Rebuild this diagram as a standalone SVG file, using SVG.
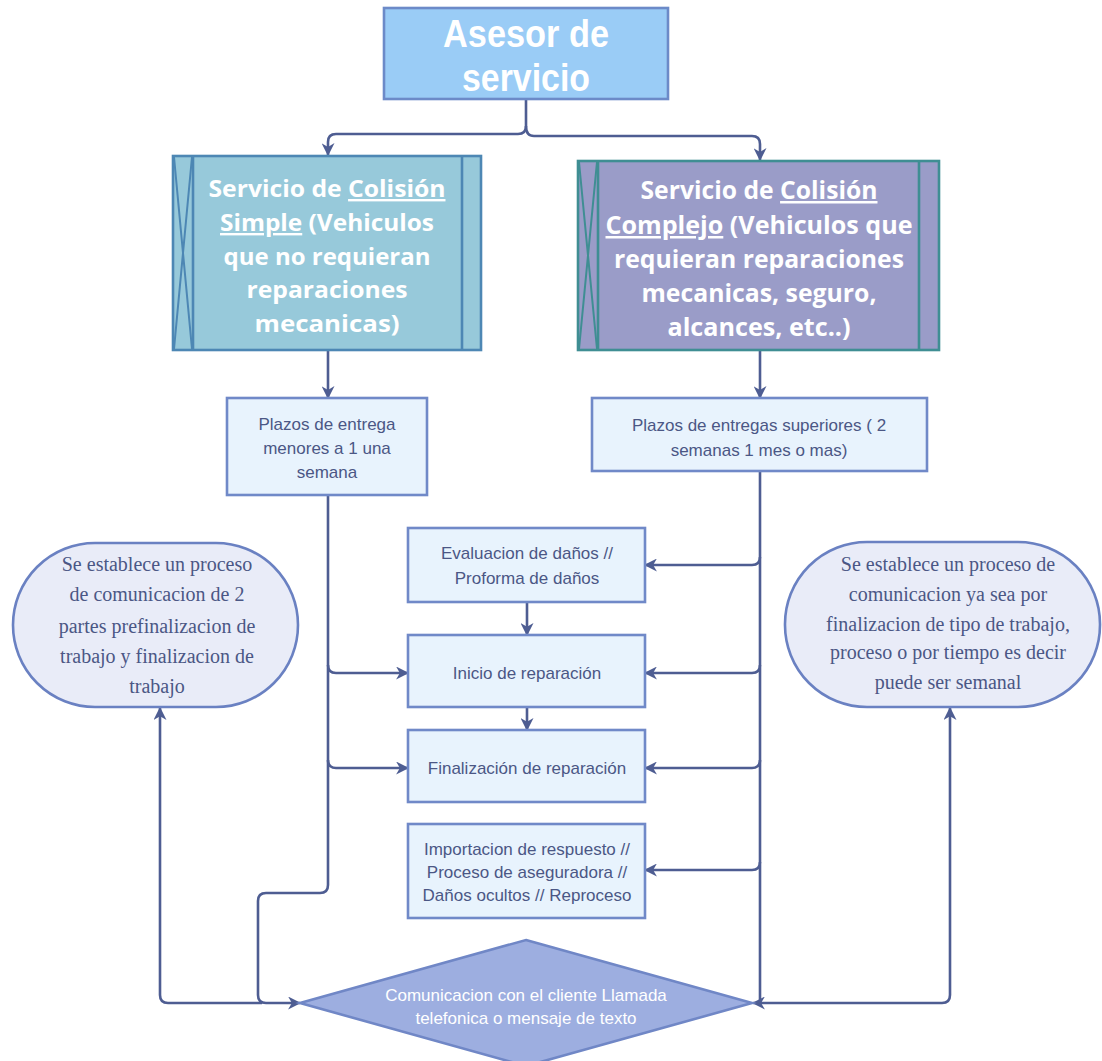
<svg xmlns="http://www.w3.org/2000/svg" width="1102" height="1061" viewBox="0 0 1102 1061">
  <defs>
    <marker id="arrow" viewBox="0 0 12 12" refX="11" refY="6" markerWidth="13" markerHeight="13" markerUnits="userSpaceOnUse" orient="auto">
      <path d="M0,0 L12,6 L0,12 L3.5,6 z" fill="#4E5D92"/>
    </marker>
    <style>
      .conn { fill: none; stroke: #4E5D92; stroke-width: 2.6; }
      .arr { marker-end: url(#arrow); }
      .box { fill: #E8F3FD; stroke: #7089C8; stroke-width: 2.6; }
      .boxtxt { font-family: "Liberation Sans", Arial, sans-serif; font-size: 17px; fill: #4B5785; text-anchor: middle; }
      .head { font-family: "Open Sans", "DejaVu Sans", sans-serif; font-weight: 700; fill: #FFFFFF; text-anchor: middle; }
      .title { font-family: "Liberation Sans", Arial, sans-serif; font-weight: 700; font-size: 38px; fill: #FFFFFF; text-anchor: middle; }
      .pill { fill: #E9ECF8; stroke: #6A81C2; stroke-width: 2.6; }
      .pilltxt { font-family: "Liberation Serif", "Times New Roman", serif; font-size: 20px; fill: #4B5785; text-anchor: middle; }
      .diatxt { font-family: "Liberation Sans", Arial, sans-serif; font-size: 17px; fill: #FFFFFF; text-anchor: middle; }
      .u { text-decoration: underline; }
    </style>
  </defs>

  <!-- connectors -->
  <g id="connectors">
    <path class="conn arr" d="M526,99 V126 Q526,134 518,134 H336 Q328,134 328,142 V155"/>
    <path class="conn arr" d="M526,126 Q526,136 534,136 H752 Q760,136 760,144 V160"/>
    <path class="conn arr" d="M328,350 V398"/>
    <path class="conn arr" d="M760,350 V398"/>
    <!-- left trunk -->
    <path class="conn arr" d="M328,495 V885 Q328,893 320,893 H266 Q258,893 258,901 V995 Q258,1003 266,1003 H300"/>
    <path class="conn arr" d="M328,665 Q328,673 336,673 H408"/>
    <path class="conn arr" d="M328,760 Q328,768 336,768 H408"/>
    <path class="conn arr" d="M262,1003 H168 Q160,1003 160,995 V708"/>
    <!-- right trunk -->
    <path class="conn arr" d="M760,471 V1003 H753"/>
    <path class="conn arr" d="M760,557 Q760,565 752,565 H645"/>
    <path class="conn arr" d="M760,665 Q760,673 752,673 H645"/>
    <path class="conn arr" d="M760,760 Q760,768 752,768 H645"/>
    <path class="conn arr" d="M760,862 Q760,870 752,870 H645"/>
    <path class="conn arr" d="M760,1003 H942 Q950,1003 950,995 V708"/>
    <!-- centre chain -->
    <path class="conn arr" d="M527,602 V635"/>
    <path class="conn arr" d="M527,707 V730"/>
  </g>

  <!-- Asesor de servicio -->
  <g id="asesor">
    <rect x="384" y="8" width="284" height="91" fill="#9ACCF6" stroke="#6C8AC8" stroke-width="2.6"/>
    <text class="title" x="526" y="47" textLength="166" lengthAdjust="spacingAndGlyphs">Asesor de</text>
    <text class="title" x="526" y="91" textLength="128" lengthAdjust="spacingAndGlyphs">servicio</text>
  </g>

  <!-- Servicio de Colisión Simple -->
  <g id="colision-simple">
    <rect x="173" y="156" width="308" height="194" fill="#97C9DA" stroke="#4D87B4" stroke-width="2.6"/>
    <line x1="193" y1="156" x2="193" y2="350" stroke="#4D87B4" stroke-width="2.6"/>
    <line x1="462" y1="156" x2="462" y2="350" stroke="#4D87B4" stroke-width="2.6"/>
    <path d="M174,157 L192,349 M192,157 L174,349" stroke="#4D87B4" stroke-width="2" fill="none"/>
    <text class="head" x="327" y="197" font-size="24" textLength="237" lengthAdjust="spacingAndGlyphs">Servicio de <tspan class="u">Colisión</tspan></text>
    <text class="head" x="327" y="231" font-size="24" textLength="214" lengthAdjust="spacingAndGlyphs"><tspan class="u">Simple</tspan> (Vehiculos</text>
    <text class="head" x="327" y="265" font-size="24" textLength="207" lengthAdjust="spacingAndGlyphs">que no requieran</text>
    <text class="head" x="327" y="298" font-size="24" textLength="161" lengthAdjust="spacingAndGlyphs">reparaciones</text>
    <text class="head" x="327" y="332" font-size="24" textLength="145" lengthAdjust="spacingAndGlyphs">mecanicas)</text>
  </g>

  <!-- Servicio de Colisión Complejo -->
  <g id="colision-complejo">
    <rect x="578" y="161" width="361" height="189" fill="#9A9CC8" stroke="#3F8E93" stroke-width="2.6"/>
    <line x1="598" y1="161" x2="598" y2="350" stroke="#3F8E93" stroke-width="2.6"/>
    <line x1="919" y1="161" x2="919" y2="350" stroke="#3F8E93" stroke-width="2.6"/>
    <path d="M579,162 L597,349 M597,162 L579,349" stroke="#3F8E93" stroke-width="2" fill="none"/>
    <text class="head" x="759" y="199" font-size="25" textLength="237" lengthAdjust="spacingAndGlyphs">Servicio de <tspan class="u">Colisión</tspan></text>
    <text class="head" x="759" y="234" font-size="25" textLength="307" lengthAdjust="spacingAndGlyphs"><tspan class="u">Complejo</tspan> (Vehiculos que</text>
    <text class="head" x="759" y="268" font-size="25" textLength="290" lengthAdjust="spacingAndGlyphs">requieran reparaciones</text>
    <text class="head" x="759" y="302" font-size="25" textLength="235" lengthAdjust="spacingAndGlyphs">mecanicas, seguro,</text>
    <text class="head" x="759" y="336" font-size="25" textLength="183" lengthAdjust="spacingAndGlyphs">alcances, etc..)</text>
  </g>

  <!-- Plazos (simple) -->
  <g id="plazos-simple">
    <rect class="box" x="227" y="398" width="200" height="97"/>
    <text class="boxtxt" x="327" y="430">Plazos de entrega</text>
    <text class="boxtxt" x="327" y="454">menores a 1 una</text>
    <text class="boxtxt" x="327" y="478">semana</text>
  </g>

  <!-- Plazos (complejo) -->
  <g id="plazos-complejo">
    <rect class="box" x="592" y="398" width="335" height="73"/>
    <text class="boxtxt" x="759" y="431">Plazos de entregas superiores ( 2</text>
    <text class="boxtxt" x="759" y="456">semanas 1 mes o mas)</text>
  </g>

  <!-- Evaluacion de daños -->
  <g id="evaluacion">
    <rect class="box" x="408" y="528" width="237" height="74"/>
    <text class="boxtxt" x="527" y="559">Evaluacion de daños //</text>
    <text class="boxtxt" x="527" y="584">Proforma de daños</text>
  </g>

  <!-- Inicio de reparación -->
  <g id="inicio">
    <rect class="box" x="408" y="635" width="237" height="72"/>
    <text class="boxtxt" x="527" y="679">Inicio de reparación</text>
  </g>

  <!-- Finalización de reparación -->
  <g id="finalizacion">
    <rect class="box" x="408" y="730" width="237" height="72"/>
    <text class="boxtxt" x="527" y="774">Finalización de reparación</text>
  </g>

  <!-- Importacion / aseguradora / reproceso -->
  <g id="importacion">
    <rect class="box" x="408" y="824" width="237" height="94"/>
    <text class="boxtxt" x="527" y="855">Importacion de respuesto //</text>
    <text class="boxtxt" x="527" y="878">Proceso de aseguradora //</text>
    <text class="boxtxt" x="527" y="901">Daños ocultos // Reproceso</text>
  </g>

  <!-- Comunicacion (left) -->
  <g id="comunicacion-simple">
    <rect class="pill" x="13" y="543" width="285" height="164" rx="82" ry="82"/>
    <text class="pilltxt" x="157" y="571">Se establece un proceso</text>
    <text class="pilltxt" x="157" y="601">de comunicacion de 2</text>
    <text class="pilltxt" x="157" y="633">partes prefinalizacion de</text>
    <text class="pilltxt" x="157" y="663">trabajo y finalizacion de</text>
    <text class="pilltxt" x="157" y="693">trabajo</text>
  </g>

  <!-- Comunicacion (right) -->
  <g id="comunicacion-complejo">
    <rect class="pill" x="785" y="542" width="315" height="165" rx="82" ry="82"/>
    <text class="pilltxt" x="948" y="571">Se establece un proceso de</text>
    <text class="pilltxt" x="948" y="601">comunicacion ya sea por</text>
    <text class="pilltxt" x="948" y="631">finalizacion de tipo de trabajo,</text>
    <text class="pilltxt" x="948" y="659">proceso o por tiempo es decir</text>
    <text class="pilltxt" x="948" y="689">puede ser semanal</text>
  </g>

  <!-- Comunicacion con el cliente -->
  <g id="cliente">
    <polygon points="526,940 752,1003 526,1066 300,1003" fill="#9DAEE0" stroke="#7087C6" stroke-width="2.6"/>
    <text class="diatxt" x="526" y="1001">Comunicacion con el cliente Llamada</text>
    <text class="diatxt" x="526" y="1024">telefonica o mensaje de texto</text>
  </g>
</svg>
